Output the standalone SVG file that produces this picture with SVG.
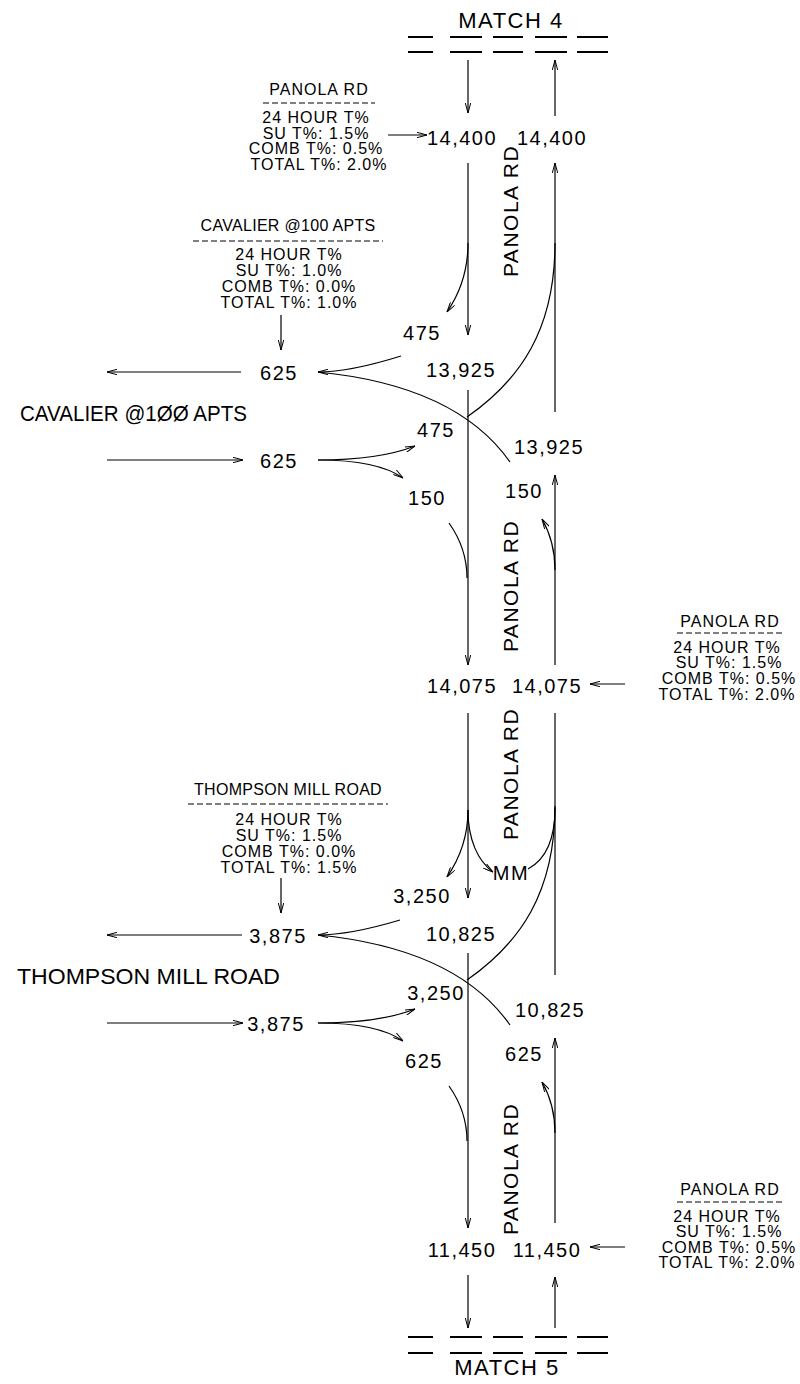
<svg xmlns="http://www.w3.org/2000/svg" width="800" height="1384" viewBox="0 0 800 1384">
<style>
text{font-family:"Liberation Sans",Arial,sans-serif;fill:#000}
.n{font-size:20px;letter-spacing:1.5px;text-anchor:middle}
.b{font-size:16px;letter-spacing:1px;text-anchor:middle}
.bt{font-size:16px;letter-spacing:0.3px;text-anchor:middle}
.road{font-size:22px}
.v{font-size:21px;letter-spacing:1.5px;text-anchor:middle}
.m{font-size:22px;letter-spacing:1.5px;text-anchor:middle}
.l{fill:none;stroke:#000;stroke-width:1.2}
.a{fill:none;stroke:#000;stroke-width:1.2;marker-end:url(#ah)}
.dash{stroke:#000;stroke-width:1;stroke-dasharray:6,3}
.mt{stroke:#000;stroke-width:2}
</style>
<defs>
<marker id="ah" viewBox="0 0 10 6" refX="10" refY="3" markerWidth="10" markerHeight="6" orient="auto" markerUnits="userSpaceOnUse">
<path d="M0,0.3 L10,3 L0,5.7" fill="none" stroke="#000" stroke-width="1"/>
</marker>
</defs>
<rect width="800" height="1384" fill="#fff"/>

<g id="connectors">
<!-- top match lines -->
<path class="mt" d="M408,37H433M450,37H482M493,37H523M535,37H567M577,37H608M408,52H433M450,52H482M493,52H523M535,52H567M577,52H608"/>
<path class="a" d="M468,60L468,113"/>
<path class="a" d="M555,116L555,60"/>
<path class="a" d="M388,135L427,135"/>
<!-- Cavalier -->
<path class="a" d="M468,163L468,335"/>
<path class="a" d="M468,243C468,275 458,296 447,312"/>
<path class="a" d="M555,412L555,163"/>
<path class="l" d="M555,243C555,330 520,380 467,417"/>
<path class="a" d="M281,315L281,350"/>
<path class="a" d="M241,372L107,372"/>
<path class="a" d="M401,356Q350,372 318,372"/>
<path class="l" d="M318,372C400,380 470,405 510,462"/>
<path class="a" d="M468,390L468,665"/>
<path class="a" d="M107,460L243,460"/>
<path class="a" d="M318,460C360,460 392,455 415,446"/>
<path class="a" d="M318,460C355,460 386,466 403,478"/>
<path class="l" d="M449,523C461,540 467,560 467,578"/>
<path class="a" d="M555,570C555,550 550,533 542,519"/>
<path class="a" d="M555,665L555,475"/>
<path class="a" d="M625,684L590,684"/>
<!-- Thompson -->
<path class="a" d="M468,713L468,898"/>
<path class="a" d="M468,810C468,840 458,861 447,877"/>
<path class="a" d="M468,810C468,840 478,861 493,872"/>
<path class="l" d="M528,869C545,860 555,840 555,808"/>
<path class="l" d="M555,975L555,713"/>
<path class="l" d="M555,806C555,893 520,943 467,980"/>
<path class="a" d="M281,878L281,913"/>
<path class="a" d="M242,935L107,935"/>
<path class="a" d="M400,920Q350,935 318,935"/>
<path class="l" d="M318,935C400,943 470,968 510,1025"/>
<path class="a" d="M468,953L468,1228"/>
<path class="a" d="M107,1023L243,1023"/>
<path class="a" d="M318,1023C360,1023 392,1018 415,1009"/>
<path class="a" d="M318,1023C355,1023 386,1029 403,1041"/>
<path class="l" d="M449,1086C461,1103 467,1123 467,1141"/>
<path class="a" d="M555,1133C555,1113 550,1096 542,1082"/>
<path class="a" d="M555,1223L555,1038"/>
<path class="a" d="M625,1247L590,1247"/>
<!-- bottom -->
<path class="a" d="M468,1275L468,1328"/>
<path class="a" d="M555,1328L555,1277"/>
<path class="mt" d="M408,1337H433M450,1337H482M493,1337H523M535,1337H567M577,1337H608M408,1353H433M450,1353H482M493,1353H523M535,1353H567M577,1353H608"/>
</g>

<g id="match4"><text class="m" x="511" y="28">MATCH 4</text></g>
<g id="match5"><text class="m" x="507" y="1375">MATCH 5</text></g>

<g id="block-panola-top">
<text class="b" x="319" y="95">PANOLA RD</text>
<line class="dash" x1="263" y1="103" x2="375" y2="103"/>
<text class="b" x="316" y="123">24 HOUR T%</text>
<text class="b" x="316" y="138.5">SU T%: 1.5%</text>
<text class="b" x="316" y="154">COMB T%: 0.5%</text>
<text class="b" x="319" y="169.5">TOTAL T%: 2.0%</text>
</g>

<g id="block-cavalier">
<text class="bt" x="288" y="231">CAVALIER @100 APTS</text>
<line class="dash" x1="193" y1="241" x2="383" y2="241"/>
<text class="b" x="289" y="260">24 HOUR T%</text>
<text class="b" x="289" y="276">SU T%: 1.0%</text>
<text class="b" x="289" y="292">COMB T%: 0.0%</text>
<text class="b" x="289" y="308">TOTAL T%: 1.0%</text>
</g>

<g id="block-panola-mid">
<text class="b" x="730" y="627">PANOLA RD</text>
<line class="dash" x1="677" y1="633" x2="783" y2="633"/>
<text class="b" x="727" y="653">24 HOUR T%</text>
<text class="b" x="729" y="668">SU T%: 1.5%</text>
<text class="b" x="729" y="684">COMB T%: 0.5%</text>
<text class="b" x="727" y="700">TOTAL T%: 2.0%</text>
</g>

<g id="block-thompson">
<text class="bt" x="288" y="795">THOMPSON MILL ROAD</text>
<line class="dash" x1="188" y1="804" x2="388" y2="804"/>
<text class="b" x="289" y="825">24 HOUR T%</text>
<text class="b" x="289" y="841">SU T%: 1.5%</text>
<text class="b" x="289" y="857">COMB T%: 0.0%</text>
<text class="b" x="289" y="873">TOTAL T%: 1.5%</text>
</g>

<g id="block-panola-bottom">
<text class="b" x="730" y="1195">PANOLA RD</text>
<line class="dash" x1="677" y1="1202" x2="783" y2="1202"/>
<text class="b" x="727" y="1222">24 HOUR T%</text>
<text class="b" x="729" y="1237">SU T%: 1.5%</text>
<text class="b" x="729" y="1253">COMB T%: 0.5%</text>
<text class="b" x="727" y="1268">TOTAL T%: 2.0%</text>
</g>

<g id="road-labels">
<text class="road" x="20" y="421" textLength="227" lengthAdjust="spacingAndGlyphs">CAVALIER @1ØØ APTS</text>
<text class="road" x="17" y="984" textLength="263" lengthAdjust="spacingAndGlyphs">THOMPSON MILL ROAD</text>
<text class="v" transform="translate(518,211) rotate(-90)">PANOLA RD</text>
<text class="v" transform="translate(518,586) rotate(-90)">PANOLA RD</text>
<text class="v" transform="translate(518,774) rotate(-90)">PANOLA RD</text>
<text class="v" transform="translate(518,1169) rotate(-90)">PANOLA RD</text>
</g>

<g id="volumes">
<text class="n" x="462" y="145">14,400</text>
<text class="n" x="552" y="145">14,400</text>
<text class="n" x="422" y="340">475</text>
<text class="n" x="461" y="377">13,925</text>
<text class="n" x="279" y="380">625</text>
<text class="n" x="436" y="437">475</text>
<text class="n" x="549" y="454">13,925</text>
<text class="n" x="279" y="468">625</text>
<text class="n" x="427" y="505">150</text>
<text class="n" x="524" y="498">150</text>
<text class="n" x="462" y="693">14,075</text>
<text class="n" x="547" y="693">14,075</text>
<text class="n" x="511" y="880">MM</text>
<text class="n" x="422" y="903">3,250</text>
<text class="n" x="461" y="941">10,825</text>
<text class="n" x="278" y="943">3,875</text>
<text class="n" x="436" y="1000">3,250</text>
<text class="n" x="550" y="1017">10,825</text>
<text class="n" x="276" y="1031">3,875</text>
<text class="n" x="424" y="1068">625</text>
<text class="n" x="524" y="1061">625</text>
<text class="n" x="462" y="1257">11,450</text>
<text class="n" x="547" y="1257">11,450</text>
</g>
</svg>
